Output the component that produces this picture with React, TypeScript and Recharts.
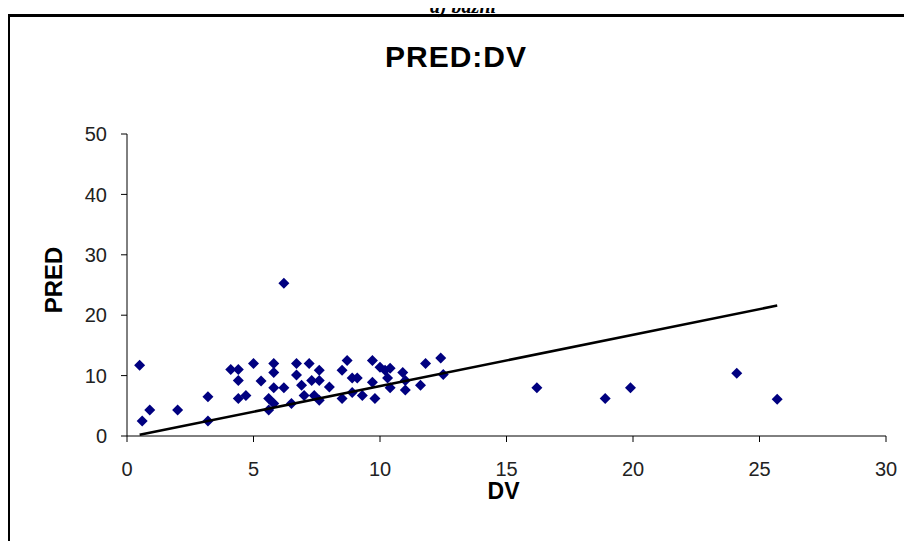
import { ScatterChart, Scatter, XAxis, YAxis, Label } from "recharts";

// DV / PRED pairs
const dvValues = [
  0.5, 0.6, 0.9, 2.0, 3.2, 3.2, 4.1, 4.4, 4.4, 4.4, 4.7, 5.0, 5.3, 5.8, 5.8, 5.6, 5.8, 6.2, 5.6, 5.8,
  6.2, 6.7, 6.7, 6.9, 7.2, 6.5, 7.0, 7.6, 7.3, 7.6, 7.4, 8.0, 8.7, 8.5, 8.9, 9.1, 8.9, 9.3, 9.7, 10.0,
  9.7, 9.8, 10.2, 10.3, 7.6, 8.5, 10.4, 10.9, 11.0, 10.4, 11.0, 11.6, 11.8, 12.4, 12.5, 16.2, 18.9, 19.9,
  24.1, 25.7,
];
const predValues = [
  11.7, 2.5, 4.3, 4.3, 6.5, 2.5, 11.0, 11.0, 9.2, 6.2, 6.7, 12.0, 9.1, 12.0, 10.5, 6.2, 8.0, 8.0, 4.3,
  5.4, 25.3, 12.0, 10.1, 8.4, 12.0, 5.4, 6.7, 10.9, 9.2, 9.2, 6.7, 8.1, 12.5, 10.9, 9.6, 9.6, 7.2, 6.7,
  12.5, 11.4, 8.9, 6.2, 10.9, 9.6, 5.9, 6.2, 11.2, 10.5, 9.2, 8.0, 7.6, 8.4, 12.0, 12.9, 10.2, 8.0, 6.2,
  8.0, 10.4, 6.1,
];

// trend line end points
const trendDv = [0.5, 25.7];
const trendPred = [0.2, 21.6];

const xTicks = [0, 5, 10, 15, 20, 25, 30];
const yTicks = [0, 10, 20, 30, 40, 50];

const points = dvValues.map((dv, i) => ({ dv, pred: predValues[i] }));
const trend = trendDv.map((dv, i) => ({ dv, pred: trendPred[i] }));

const FONT = "'Liberation Sans', Arial, sans-serif";

function Diamond({ cx, cy }: any) {
  const r = 5.5;
  return <path d={`M${cx},${cy - r}L${cx + r},${cy}L${cx},${cy + r}L${cx - r},${cy}Z`} fill="#000080" />;
}

function YTitle({ viewBox }: any) {
  const x = viewBox.x + 25;
  const y = viewBox.y + viewBox.height / 2 - 5;
  return (
    <text x={x} y={y} transform={`rotate(-90 ${x} ${y})`} textAnchor="middle" fontSize={24} fontWeight="bold" fill="#000" fontFamily={FONT}>
      PRED
    </text>
  );
}

function XTitle({ viewBox }: any) {
  const x = viewBox.x + viewBox.width / 2 - 3;
  const y = viewBox.y + 63;
  return (
    <text x={x} y={y} textAnchor="middle" fontSize={23} fontWeight="bold" fill="#000" fontFamily={FONT}>
      DV
    </text>
  );
}

export default function App() {
  return (
    <div style={{ position: "relative", width: 912, height: 549, margin: -8, overflow: "hidden", background: "#fff" }}>
      <div
        style={{
          position: "absolute",
          left: 0,
          width: 926,
          top: -4,
          textAlign: "center",
          fontFamily: "'Liberation Serif', 'Times New Roman', serif",
          fontStyle: "italic",
          fontWeight: "bold",
          fontSize: 20,
          lineHeight: "20px",
        }}
      >
        a) bazni
      </div>
      <div
        style={{
          position: "absolute",
          left: 7,
          top: 14,
          width: 897,
          height: 600,
          border: "3px solid #000",
        }}
      />
      <div
        style={{
          position: "absolute",
          left: 0,
          width: 912,
          top: 42,
          textAlign: "center",
          fontFamily: FONT,
          fontWeight: "bold",
          fontSize: 30,
          lineHeight: "30px",
          letterSpacing: 1,
        }}
      >
        PRED:DV
      </div>
      <div style={{ position: "absolute", left: 0, top: 0 }}>
        <ScatterChart width={912} height={549} margin={{ top: 134, right: 26, bottom: 63, left: 37 }} style={{ fontFamily: FONT }}>
          <XAxis
            type="number"
            dataKey="dv"
            domain={[0, 30]}
            ticks={xTicks}
            height={50}
            tickSize={6}
            tickMargin={20}
            stroke="#000"
            tick={{ fontSize: 20, fill: "#222" }}
            allowDataOverflow
          >
            <Label content={(p: any) => <XTitle {...p} />} />
          </XAxis>
          <YAxis
            type="number"
            dataKey="pred"
            domain={[0, 50]}
            ticks={yTicks}
            width={90}
            tickSize={6}
            tickMargin={14}
            stroke="#000"
            tick={{ fontSize: 20, fill: "#222" }}
            allowDataOverflow
          >
            <Label content={(p: any) => <YTitle {...p} />} />
          </YAxis>
          <Scatter data={points} shape={(p: any) => <Diamond {...p} />} isAnimationActive={false} />
          <Scatter
            data={trend}
            line={{ stroke: "#000", strokeWidth: 2.5 }}
            shape={() => <g />}
            isAnimationActive={false}
          />
        </ScatterChart>
      </div>
    </div>
  );
}
